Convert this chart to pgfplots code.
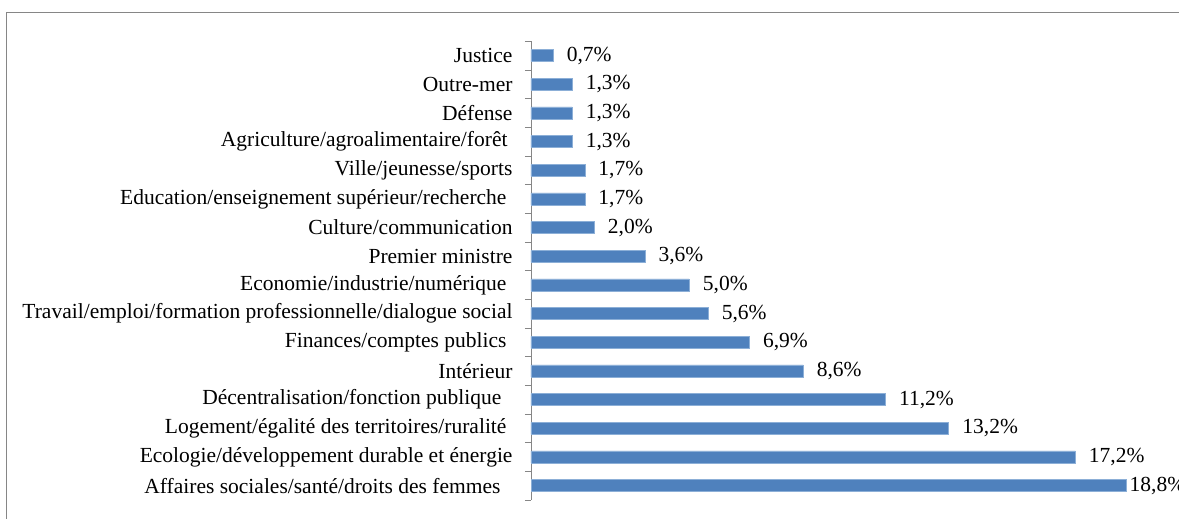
\documentclass[border=0pt]{standalone}
\usepackage{pgfplots}
\pgfplotsset{compat=1.18}
\usepackage{fontspec}
\setmainfont{Liberation Serif}
\definecolor{barblue}{RGB}{79,129,189}
\definecolor{baredge}{RGB}{140,175,215}
\definecolor{framegray}{RGB}{134,134,134}
\newcommand{\tsp}[1]{\hspace*{#1pt}}
\begin{document}
\begin{tikzpicture}
\useasboundingbox (0,0) rectangle (1179pt,519pt);
\draw[framegray, line width=0.9pt] (6pt,-20pt) rectangle (1220pt,507pt);
\begin{axis}[
  at={(531pt,19pt)}, anchor=south west,
  scale only axis,
  width=595pt, height=458.7pt,
  xmin=0, xmax=18.8,
  ymin=-0.5, ymax=15.5,
  axis x line=none,
  axis y line*=left,
  axis line style={framegray, line width=0.9pt, -},
  clip=false,
  ytick={0,...,15},
  yticklabels={
    Affaires sociales/santé/droits des femmes\tsp{12},
    Ecologie/développement durable et énergie,
    Logement/égalité des territoires/ruralité\tsp{6},
    Décentralisation/fonction publique\tsp{11},
    Intérieur,
    Finances/comptes publics\tsp{6},
    Travail/emploi/formation professionnelle/dialogue social,
    Economie/industrie/numérique\tsp{6},
    Premier ministre,
    Culture/communication,
    Education/enseignement supérieur/recherche\tsp{6},
    Ville/jeunesse/sports,
    Agriculture/agroalimentaire/forêt\tsp{5},
    Défense,
    Outre-mer,
    Justice},
  major tick length=0pt,
  extra y ticks={-0.5,0.5,...,15.5},
  extra y tick labels={},
  extra y tick style={major tick length=6pt, tick align=outside,
    tick style={framegray, line width=0.9pt}},
  yticklabel style={font=\fontsize{21.5}{24}\selectfont, xshift=-15pt},
  point meta=x,
  /pgf/number format/assume math mode=true,
  nodes near coords={\pgfmathprintnumber[fixed,fixed zerofill,precision=1,use comma]{\pgfplotspointmeta}\%},
  nodes near coords style={font=\fontsize{21.5}{24}\selectfont, anchor=west, xshift=10pt},
]
\addplot[xbar, bar width=12pt, bar shift=0pt, fill=barblue, draw=baredge, line width=0.6pt]
  coordinates {
    (17.2,1) (13.2,2) (11.2,3) (8.6,4) (6.9,5) (5.6,6) (5.0,7)
    (3.6,8) (2.0,9) (1.7,10) (1.7,11) (1.3,12) (1.3,13) (1.3,14) (0.7,15)
  };
\addplot[xbar, bar width=12pt, bar shift=0pt, fill=barblue, draw=baredge, line width=0.6pt,
  every node near coord/.append style={xshift=-10pt}]
  coordinates {(18.8,0)};
\end{axis}
\end{tikzpicture}
\end{document}
